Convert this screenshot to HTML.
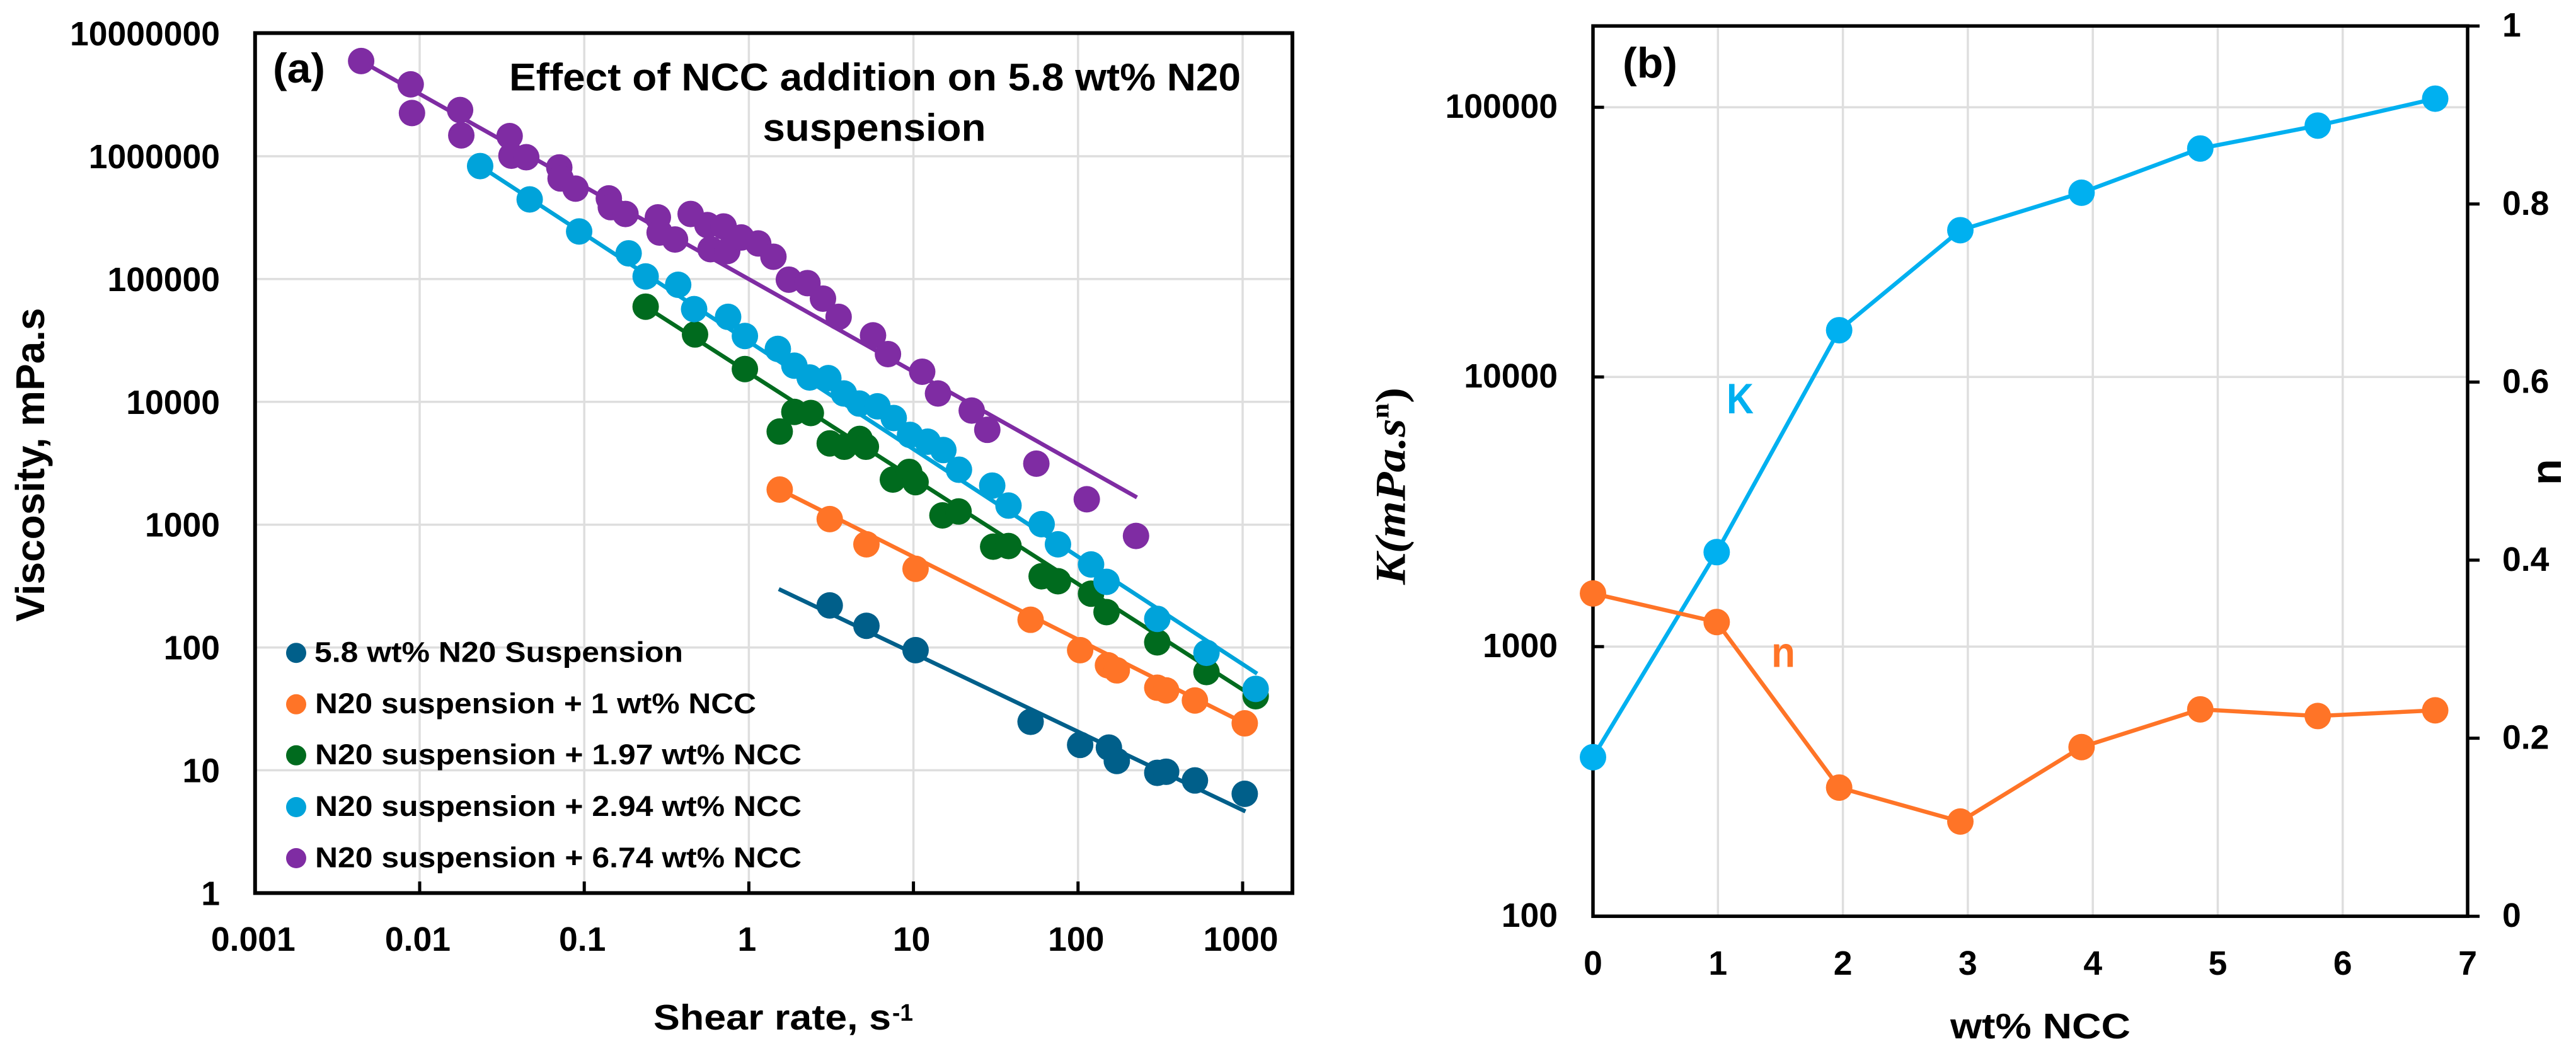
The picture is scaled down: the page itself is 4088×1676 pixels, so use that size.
<!DOCTYPE html>
<html lang="en">
<head>
<meta charset="utf-8">
<title>Effect of NCC addition on N20 suspension</title>
<style>
html,body{margin:0;padding:0;background:#fff;width:4088px;height:1676px;overflow:hidden}
svg{display:block}
text{font-family:"Liberation Sans",sans-serif;font-weight:700;fill:#000}
</style>
</head>
<body>
<svg id="figure" xmlns="http://www.w3.org/2000/svg" width="4088" height="1676" viewBox="0 0 4088 1676">
<rect x="0" y="0" width="4088" height="1676" fill="#fff"/>
<g id="gridA"></g>
<g id="gridB"></g>
<rect x="404.8" y="52.5" width="1646.2" height="1364.9" fill="none" stroke="#000" stroke-width="6"/>
<rect x="2528" y="41.2" width="1388" height="1413" fill="none" stroke="#000" stroke-width="5.5"/>
<g id="ticksA"></g>
<g id="ticksB"></g>
<g id="marksA"></g>
<g id="marksB"></g>

<text x="433" y="131" font-size="66" textLength="83" lengthAdjust="spacingAndGlyphs">(a)</text>
<text x="808" y="143.6" font-size="61" textLength="1161" lengthAdjust="spacingAndGlyphs">Effect of NCC addition on 5.8 wt% N20</text>
<text x="1210.5" y="223.4" font-size="61" textLength="354" lengthAdjust="spacingAndGlyphs">suspension</text>
<text transform="translate(70,986.6) rotate(-90)" x="0" y="0" font-size="64" textLength="498" lengthAdjust="spacingAndGlyphs">Viscosity, mPa.s</text>
<text x="1037" y="1634" font-size="57" textLength="377" lengthAdjust="spacingAndGlyphs">Shear rate, s</text>
<text x="1416" y="1620" font-size="38" textLength="33" lengthAdjust="spacingAndGlyphs">-1</text>

<g>
<circle cx="470" cy="1036.2" r="16" fill="#005F8A"/>
<text x="499" y="1050.5" font-size="45" textLength="585" lengthAdjust="spacingAndGlyphs">5.8 wt% N20 Suspension</text>
<circle cx="470" cy="1117.8" r="16" fill="#FF7427"/>
<text x="500" y="1132" font-size="45" textLength="700" lengthAdjust="spacingAndGlyphs">N20 suspension + 1 wt% NCC</text>
<circle cx="470" cy="1198.8" r="16" fill="#006B1E"/>
<text x="500" y="1213" font-size="45" textLength="772" lengthAdjust="spacingAndGlyphs">N20 suspension + 1.97 wt% NCC</text>
<circle cx="470" cy="1281" r="16" fill="#00A3DA"/>
<text x="500" y="1295" font-size="45" textLength="772" lengthAdjust="spacingAndGlyphs">N20 suspension + 2.94 wt% NCC</text>
<circle cx="470" cy="1362" r="16" fill="#7F2CA3"/>
<text x="500" y="1376.5" font-size="45" textLength="772" lengthAdjust="spacingAndGlyphs">N20 suspension + 6.74 wt% NCC</text>
</g>

<text x="2575" y="123" font-size="68" textLength="87" lengthAdjust="spacingAndGlyphs">(b)</text>
<text x="2740" y="656" font-size="68" textLength="43" lengthAdjust="spacingAndGlyphs" style="fill:#00B0F0">K</text>
<text x="2811" y="1058.6" font-size="68" textLength="38" lengthAdjust="spacingAndGlyphs" style="fill:#FF7427">n</text>
<text transform="translate(2229.5,928) rotate(-90)" x="0" y="0" font-size="68" textLength="313" lengthAdjust="spacingAndGlyphs" style="font-family:'Liberation Serif',serif;font-style:italic">K(mPa.s<tspan dy="-26" font-size="40" font-style="normal">n</tspan><tspan dy="26" font-style="normal">)</tspan></text>
<text transform="translate(4064,770) rotate(-90)" x="0" y="0" font-size="68">n</text>
<text x="3095" y="1648" font-size="57" textLength="286" lengthAdjust="spacingAndGlyphs">wt% NCC</text>
</svg>

<script>
// ---------- Panel (a) data ----------
const shearTicks = [0.001, 0.01, 0.1, 1, 10, 100, 1000];
const shearTickLabels = ['0.001', '0.01', '0.1', '1', '10', '100', '1000'];
const viscTicks = [1, 10, 100, 1000, 10000, 100000, 1000000, 10000000];
const viscTickLabels = ['1', '10', '100', '1000', '10000', '100000', '1000000', '10000000'];

const n20Shear = [3.10, 5.18, 10.3, 51.5, 103, 154, 172, 303, 343, 513, 1030];
const n20Visc = [220, 150, 95.1, 24.8, 16.1, 15.3, 11.9, 9.53, 9.73, 8.26, 6.43];
const n20FitShear = [1.52, 1040];
const n20FitVisc = [299, 4.62];

const ncc1Shear = [1.54, 3.10, 5.18, 10.3, 51.5, 103, 152, 172, 303, 343, 513, 1030];
const ncc1Visc = [1930, 1110, 692, 437, 168, 95.1, 71.6, 65.1, 47.0, 44.7, 37.0, 24.1];
const ncc1FitShear = [1.54, 1030];
const ncc1FitVisc = [1930, 24.1];

const ncc197Shear = [0.236, 0.471, 0.946, 1.54, 1.89, 2.38, 3.10, 3.80, 4.71, 5.14, 7.50, 9.42, 10.3, 15.0, 18.8, 30.5, 37.8, 60.1, 75.5, 120, 149, 303, 603, 1200];
const ncc197Visc = [59600, 35400, 18500, 5730, 8280, 8110, 4590, 4310, 4990, 4310, 2330, 2690, 2220, 1190, 1280, 662, 670, 380, 346, 274, 194, 110, 63.1, 40.1];
const ncc197FitShear = [0.236, 1230];
const ncc197FitVisc = [59600, 38];

const ncc294Shear = [0.0233, 0.0466, 0.0931, 0.186, 0.236, 0.372, 0.465, 0.748, 0.946, 1.50, 1.89, 2.34, 3.04, 3.78, 4.69, 6.04, 7.59, 9.53, 12.2, 15.2, 18.9, 30.1, 37.8, 60.1, 75.5, 120, 149, 303, 603, 1200];
const ncc294Visc = [832000, 445000, 244000, 162000, 105000, 89800, 56900, 49200, 34400, 27000, 19700, 15800, 15600, 11700, 9680, 9200, 7380, 5380, 4740, 4050, 2800, 2080, 1430, 1010, 692, 474, 342, 171, 90.4, 46.0];
const ncc294FitShear = [0.0233, 1225];
const ncc294FitVisc = [832000, 61.2];

const ncc674Shear = [0.00441, 0.00882, 0.00898, 0.0176, 0.0179, 0.0352, 0.0361, 0.0444, 0.0705, 0.0718, 0.0885, 0.141, 0.145, 0.178, 0.280, 0.287, 0.356, 0.443, 0.560, 0.703, 0.585, 0.739, 0.900, 1.14, 1.41, 1.75, 2.27, 2.82, 3.51, 5.68, 7.00, 11.3, 14.1, 22.6, 28.1, 55.8, 113, 225];
const ncc674Visc = [5960000, 3850000, 2250000, 2380000, 1480000, 1460000, 1010000, 982000, 811000, 659000, 545000, 454000, 385000, 339000, 318000, 239000, 210000, 339000, 275000, 268000, 175000, 169000, 218000, 195000, 152000, 98900, 92700, 69300, 49200, 34800, 24500, 17600, 11700, 8490, 5920, 3140, 1610, 809];
const ncc674FitShear = [0.00441, 228];
const ncc674FitVisc = [5960000, 1667];

// ---------- Panel (b) data ----------
const nccTicks = [0, 1, 2, 3, 4, 5, 6, 7];
const nccTickLabels = ['0', '1', '2', '3', '4', '5', '6', '7'];
const kTicks = [100, 1000, 10000, 100000];
const kTickLabels = ['100', '1000', '10000', '100000'];
const nTicks = [0, 0.2, 0.4, 0.6, 0.8, 1];
const nTickLabels = ['0', '0.2', '0.4', '0.6', '0.8', '1'];
const nccContent = [0, 0.99, 1.97, 2.94, 3.91, 4.86, 5.8, 6.74];
const kValues = [389, 2240, 14900, 35000, 48200, 70300, 85500, 107600];
const nValues = [0.3626, 0.3305, 0.1445, 0.1064, 0.190, 0.2324, 0.2249, 0.2313];

// ---------- Axis functions ----------
const xA = v => 404.8 + (Math.log10(v) + 3) * 261.2;
const yA = v => 1417.4 - Math.log10(v) * 194.9;
const xB = v => 2528 + v * 198.3;
const yK = v => 1454.2 - (Math.log10(v) - 2) * 428;
const yN = v => 1454.2 - v * 1413;

const NS = 'http://www.w3.org/2000/svg';

function addLine(parent, name, x1, y1, x2, y2, color, width) {
  const el = document.createElementNS(NS, 'line');
  
  
  el.setAttribute('x1', x1);
  el.setAttribute('y1', y1);
  el.setAttribute('x2', x2);
  el.setAttribute('y2', y2);
  el.setAttribute('stroke', color);
  el.setAttribute('stroke-width', width);
  parent.appendChild(el);
}

function addLabel(parent, name, x, y, anchor, content) {
  const el = document.createElementNS(NS, 'text');
  
  
  el.setAttribute('x', x);
  el.setAttribute('y', y);
  el.setAttribute('font-size', '53.5');
  el.setAttribute('text-anchor', anchor);
  el.textContent = content;
  parent.appendChild(el);
}

function addPoint(parent, name, cx, cy, color) {
  const el = document.createElementNS(NS, 'circle');
  
  
  el.setAttribute('cx', cx);
  el.setAttribute('cy', cy);
  el.setAttribute('r', 21);
  el.setAttribute('fill', color);
  parent.appendChild(el);
}

function addPolyline(parent, name, xs, ys, fx, fy, color, width) {
  const el = document.createElementNS(NS, 'polyline');
  
  
  el.setAttribute('points', xs.map((v, i) => fx(v) + ',' + fy(ys[i])).join(' '));
  el.setAttribute('fill', 'none');
  el.setAttribute('stroke', color);
  el.setAttribute('stroke-width', width);
  el.setAttribute('stroke-linejoin', 'round');
  parent.appendChild(el);
}

// ---------- Panel (a) grid, ticks ----------
const gridA = document.getElementById('gridA');
const ticksA = document.getElementById('ticksA');
const GRID = '#DEDEDE';
shearTicks.forEach((v, i) => {
  if (i > 0) {
    addLine(gridA, 'panel-a-gridline-x', xA(v), 55, xA(v), 1415, GRID, 3.5);
    addLine(ticksA, 'panel-a-tick-x', xA(v), 1417, xA(v), 1399, '#000', 5);
  }
  addLabel(ticksA, 'panel-a-x-tick-label', xA(v) - 3, 1509, 'middle', shearTickLabels[i]);
});
viscTicks.forEach((v, i) => {
  if (i > 0 && i < viscTicks.length - 1) {
    addLine(gridA, 'panel-a-gridline-y', 407, yA(v), 2049, yA(v), GRID, 3.5);
  }
  addLabel(ticksA, 'panel-a-y-tick-label', 349, yA(v) + 19, 'end', viscTickLabels[i]);
});

// ---------- Panel (a) series ----------
const marksA = document.getElementById('marksA');
function drawViscositySeries(name, fitX, fitY, xs, ys, color) {
  addPolyline(marksA, name + '-fit-line', fitX, fitY, xA, yA, color, 6.5);
  xs.forEach((v, i) => addPoint(marksA, name + '-point', xA(v), yA(ys[i]), color));
}
drawViscositySeries('series-n20', n20FitShear, n20FitVisc, n20Shear, n20Visc, '#005F8A');
drawViscositySeries('series-1-ncc', ncc1FitShear, ncc1FitVisc, ncc1Shear, ncc1Visc, '#FF7427');
drawViscositySeries('series-1-97-ncc', ncc197FitShear, ncc197FitVisc, ncc197Shear, ncc197Visc, '#006B1E');
drawViscositySeries('series-2-94-ncc', ncc294FitShear, ncc294FitVisc, ncc294Shear, ncc294Visc, '#00A3DA');
drawViscositySeries('series-6-74-ncc', ncc674FitShear, ncc674FitVisc, ncc674Shear, ncc674Visc, '#7F2CA3');

// ---------- Panel (b) grid, ticks ----------
const gridB = document.getElementById('gridB');
const ticksB = document.getElementById('ticksB');
nccTicks.forEach((v, i) => {
  if (i > 0 && i < nccTicks.length - 1) {
    addLine(gridB, 'panel-b-gridline-x', xB(v), 44, xB(v), 1452, GRID, 3.5);
  }
  addLabel(ticksB, 'panel-b-x-tick-label', xB(v), 1547, 'middle', nccTickLabels[i]);
});
kTicks.forEach((v, i) => {
  if (i > 0) {
    addLine(gridB, 'panel-b-gridline-y', 2530, yK(v), 3914, yK(v), GRID, 3.5);
    addLine(ticksB, 'panel-b-tick-k', 2528, yK(v), 2545.5, yK(v), '#000', 5);
  }
  addLabel(ticksB, 'panel-b-k-tick-label', 2472, yK(v) + 17, 'end', kTickLabels[i]);
});
nTicks.forEach((v, i) => {
  addLine(ticksB, 'panel-b-tick-n', 3916, yN(v), 3935, yN(v), '#000', 5);
  addLabel(ticksB, 'panel-b-n-tick-label', 3971, yN(v) + 17, 'start', nTickLabels[i]);
});

// ---------- Panel (b) series ----------
const marksB = document.getElementById('marksB');
addPolyline(marksB, 'series-k-line', nccContent, kValues, xB, yK, '#00B0F0', 6.5);
nccContent.forEach((v, i) => addPoint(marksB, 'series-k-point', xB(v), yK(kValues[i]), '#00B0F0'));
addPolyline(marksB, 'series-n-line', nccContent, nValues, xB, yN, '#FF7427', 6.5);
nccContent.forEach((v, i) => addPoint(marksB, 'series-n-point', xB(v), yN(nValues[i]), '#FF7427'));
</script>
</body>
</html>
